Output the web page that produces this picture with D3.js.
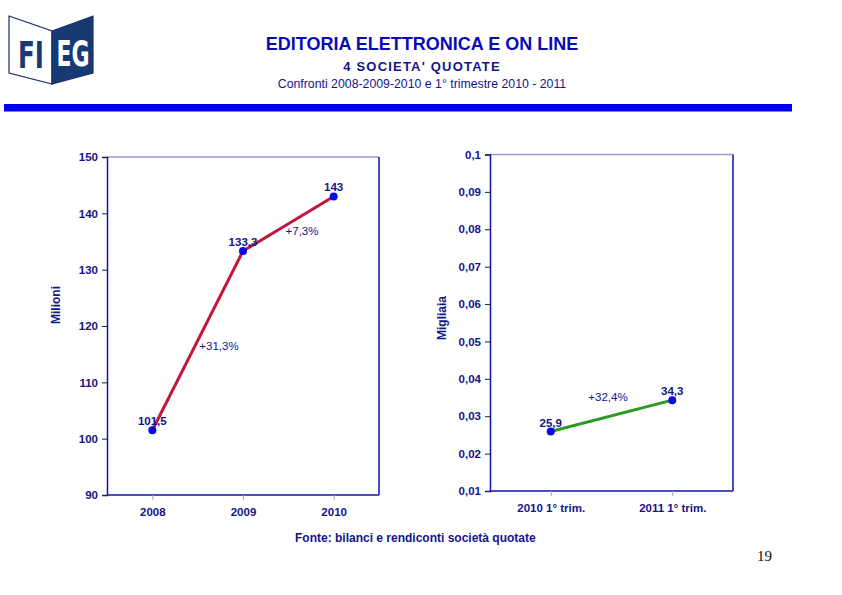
<!DOCTYPE html>
<html><head><meta charset="utf-8">
<script src="https://cdn.jsdelivr.net/npm/d3@7"></script>
<style>body{margin:0;background:#fff}svg{display:block}</style>
</head><body>
<script>
const leftCats = ["2008","2009","2010"];
const leftValues = [101.5,133.3,143];
const leftLabels = ["101,5","133,3","143"];
const leftTicks = [90,100,110,120,130,140,150];
const leftGrowth = ["+31,3%","+7,3%"];

const rightCats = ["2010 1° trim.","2011 1° trim."];
const rightValues = [25.9,34.3];
const rightLabels = ["25,9","34,3"];
const rightTicks = [0.01,0.02,0.03,0.04,0.05,0.06,0.07,0.08,0.09,0.1];
const rightGrowth = ["+32,4%"];

const W=842,H=595;
const svg=d3.select("body").append("svg").attr("width",W).attr("height",H);
const navy="#14148a", font="Arial, 'Liberation Sans', sans-serif";

// logo
const logo=svg.append("g");
logo.append("polygon").attr("points","9,16 52,31 52,84 9,73").attr("fill","#fff").attr("stroke","#1c2f6e").attr("stroke-width",1.2);
logo.append("polygon").attr("points","52,31 93,16 93,73 52,84").attr("fill","#173a73").attr("stroke","#1c2f6e").attr("stroke-width",1.2);
logo.append("text").attr("x",31).attr("y",68).attr("text-anchor","middle").attr("font-family","'DejaVu Sans Condensed','Liberation Sans Narrow',Arial").attr("font-weight","bold").attr("font-size",38).attr("fill","#173a73").attr("transform","translate(31,50) scale(0.72,1) translate(-31,-50)").text("FI");
logo.append("text").attr("x",73).attr("y",66).attr("text-anchor","middle").attr("font-family","'DejaVu Sans Condensed','Liberation Sans Narrow',Arial").attr("font-weight","bold").attr("font-size",36).attr("fill","#fff").attr("transform","translate(73,50) scale(0.68,1) translate(-73,-50)").text("EG");

// titles
svg.append("text").attr("x",422).attr("y",50).attr("text-anchor","middle").attr("font-family",font).attr("font-weight","bold").attr("font-size",18).attr("fill","#0a0ab4").text("EDITORIA ELETTRONICA E ON LINE");
svg.append("text").attr("x",422).attr("y",71).attr("text-anchor","middle").attr("font-family",font).attr("font-weight","bold").attr("font-size",13).attr("letter-spacing",1.2).attr("fill",navy).text("4 SOCIETA' QUOTATE");
svg.append("text").attr("x",422).attr("y",88).attr("text-anchor","middle").attr("font-family",font).attr("font-size",12.3).attr("fill",navy).text("Confronti 2008-2009-2010 e 1° trimestre 2010 - 2011");
svg.append("rect").attr("x",4).attr("y",104).attr("width",788).attr("height",7.5).attr("fill","#0000f0");

function panel(o){
  const x=d3.scalePoint().domain(o.cats).range([o.x0,o.x1]).padding(0.5);
  const y=d3.scaleLinear().domain(o.dom).range([o.y1,o.y0]);
  const g=svg.append("g");
  g.append("line").attr("x1",o.x0).attr("x2",o.x1).attr("y1",o.y0).attr("y2",o.y0).attr("stroke","#9a9ad8").attr("stroke-width",1.3);
  g.append("line").attr("x1",o.x1).attr("x2",o.x1).attr("y1",o.y0).attr("y2",o.y1).attr("stroke","#1010b0").attr("stroke-width",1.5);
  const ya=g.append("g").attr("transform",`translate(${o.x0},0)`).call(d3.axisLeft(y).tickValues(o.ticks).tickSize(5).tickPadding(4).tickFormat(o.fmt));
  ya.select(".domain").attr("stroke","#1010b0").attr("stroke-width",1.5);
  ya.selectAll(".tick line").attr("stroke","#222");
  ya.selectAll("text").attr("font-family",font).attr("font-weight","bold").attr("font-size",11.5).attr("fill",navy);
  const xa=g.append("g").attr("transform",`translate(0,${o.y1})`).call(d3.axisBottom(x).tickSize(5).tickPadding(o.xpad));
  xa.select(".domain").attr("stroke","#1010b0").attr("stroke-width",1.5).attr("d",`M${o.x0},0H${o.x1}`);
  xa.selectAll(".tick line").attr("stroke","#aaa");
  xa.selectAll("text").attr("font-family",font).attr("font-weight","bold").attr("font-size",11.5).attr("fill",navy);
  g.append("text").attr("transform",`translate(${o.tx},${o.ty}) rotate(-90)`).attr("text-anchor","middle").attr("font-family",font).attr("font-weight","bold").attr("font-size",12).attr("fill",navy).text(o.title);
  const pts=o.vals.map((v,i)=>[x(o.cats[i]),y(o.scaleV(v))]);
  g.append("path").attr("d",d3.line()(pts)).attr("fill","none").attr("stroke",o.color).attr("stroke-width",3);
  g.selectAll("circle.p").data(pts).join("circle").attr("cx",d=>d[0]).attr("cy",d=>d[1]).attr("r",4).attr("fill","#0a0ae6");
  g.selectAll("text.v").data(pts).join("text").attr("x",d=>d[0]).attr("y",d=>d[1]-5).attr("text-anchor","middle").attr("font-family",font).attr("font-weight","bold").attr("font-size",11.5).attr("fill",navy).text((d,i)=>o.labels[i]);
  o.growth.forEach((t,i)=>{
    g.append("text").attr("x",o.gpos[i][0]).attr("y",o.gpos[i][1]).attr("text-anchor","middle").attr("font-family",font).attr("font-size",11.5).attr("fill",navy).text(t);
  });
}

panel({cats:leftCats,vals:leftValues,labels:leftLabels,ticks:leftTicks,dom:[90,150],fmt:d3.format("d"),
  x0:107,x1:379,y0:157,y1:495,xpad:8,color:"#c0183c",scaleV:v=>v,title:"Milioni",tx:60,ty:305,
  growth:leftGrowth,gpos:[[219,350],[302,235]]});
panel({cats:rightCats,vals:rightValues,labels:rightLabels,ticks:rightTicks,dom:[0.01,0.1],fmt:d=>String(+d.toFixed(2)).replace(".",","),
  x0:490,x1:733,y0:154.5,y1:491,xpad:8,color:"#2a9a22",scaleV:v=>v/1000,title:"Migliaia",tx:446,ty:318,
  growth:rightGrowth,gpos:[[608,401]]});

svg.append("text").attr("x",295).attr("y",542).attr("font-family",font).attr("font-weight","bold").attr("font-size",12).attr("fill",navy).text("Fonte: bilanci e rendiconti società quotate");
svg.append("text").attr("x",772).attr("y",561).attr("text-anchor","end").attr("font-family","'Liberation Serif','DejaVu Serif',serif").attr("font-size",15).attr("fill","#111").text("19");
</script>
</body></html>
